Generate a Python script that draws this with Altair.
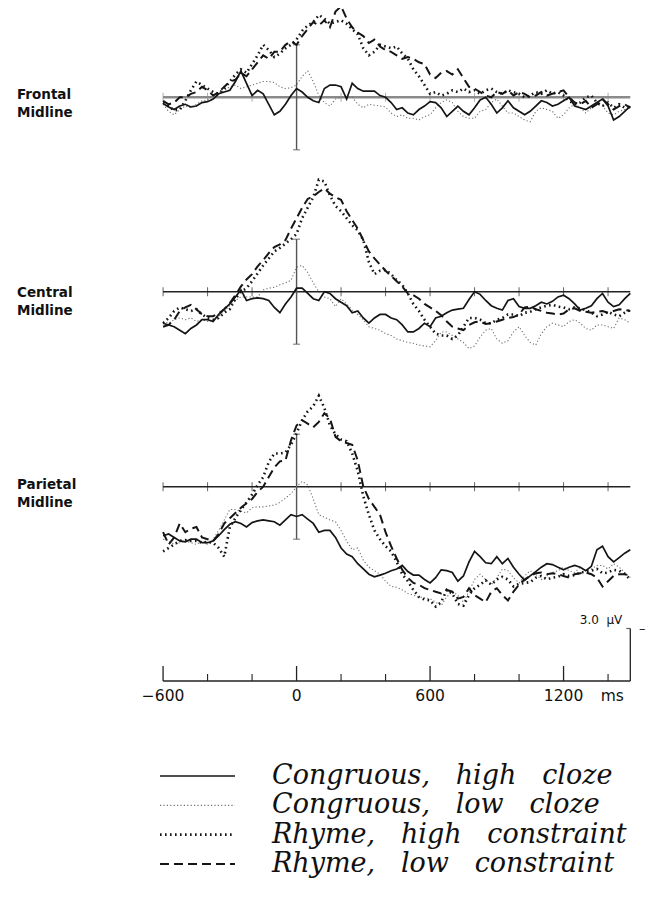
import altair as alt
import pandas as pd

# ---------------- data ----------------
times = list(range(-600, 1501, 25))  # sampling grid, ms

series_names = [
    "Congruous, high cloze",
    "Congruous, low cloze",
    "Rhyme, high constraint",
    "Rhyme, low constraint",
]
SP = "\u00a0\u00a0\u00a0"
legend_text = [
    "Congruous," + SP + "high" + SP + "cloze",
    "Congruous," + SP + "low" + SP + "cloze",
    "Rhyme," + SP + "high" + SP + "constraint",
    "Rhyme," + SP + "low" + SP + "constraint",
]

site_names = ["Frontal", "Central", "Parietal"]

# amplitudes in microvolts (as plotted, upward deflection = larger value)
frontal_ch = [
    -0.35, -0.55, -0.7, -0.5, -0.4, -0.55, -0.5, -0.3, -0.25, -0.1, 0.2, 0.3,
    0.4, 0.9, 1.5, 0.8, 0.1, 0.4, 0.2, -0.4, -1.0, -0.8, -0.4, 0.1,
    0.5, 0.3, 0.0, -0.2, -0.3, 0.5, 0.7, 0.7, 0.6, -0.1, 0.8, 0.5,
    0.35, 0.35, 0.35, 0.1, 0.0, -0.3, -0.7, -0.6, -0.9, -1.0, -0.7, -0.5,
    -0.25, -0.3, -0.6, -1.1, -0.8, -0.5, -0.8, -1.0, -0.6, -0.15, 0.0, -0.4,
    -0.9, -0.6, -0.2, -0.6, -0.8, -1.0, -0.8, -0.5, -0.2, -0.3, -0.5, -0.4,
    -0.2, 0.0, -0.5, -0.6, -0.7, -0.5, -0.3, -0.1, -0.5, -1.3, -1.1, -0.8,
    -0.5]
frontal_cl = [
    -0.4, -0.8, -1.0, -0.7, -0.5, -0.6, -0.4, -0.2, -0.15, 0.1, 0.2, 0.4,
    0.6, 0.7, 0.5, 0.6, 0.7, 0.8, 0.9, 0.9, 0.85, 0.6, 0.5, 0.55,
    0.7, 1.2, 1.5, 0.9, 0.1, -0.3, -0.5, -0.1, 0.0, 0.0, 0.0, -0.4,
    -0.6, -0.4, -0.45, -0.5, -0.55, -0.9, -1.1, -1.0, -1.2, -1.2, -1.3, -1.1,
    -1.0, -0.6, -0.3, -0.15, -0.3, -0.8, -1.1, -1.2, -1.2, -0.8, -0.7, -0.3,
    -0.1, -0.5, -0.9, -0.9, -1.1, -1.3, -1.4, -0.8, -0.6, -0.7, -0.8, -1.2,
    -1.0, -0.6, -0.4, -0.6, -0.9, -0.6, -0.4, -0.5, -0.9, -1.0, -0.8, -0.7,
    -0.6]
frontal_rh = [
    -0.3, -0.5, -0.75, -0.7, -0.2, 0.4, 0.9, 0.7, 0.5, 0.3, 0.2, 0.5,
    0.9, 1.3, 1.6, 1.4, 1.9, 2.4, 3.0, 2.7, 2.3, 2.5, 2.8, 3.0,
    3.3, 3.8, 4.1, 4.3, 4.7, 4.5, 4.2, 4.3, 4.4, 4.2, 3.9, 3.6,
    2.8, 2.4, 2.6, 3.0, 2.9, 2.8, 2.9, 2.5, 2.2, 1.6, 1.2, 0.7,
    0.2, 0.3, 0.1, 0.2, 0.4, 0.3, 0.5, 0.3, 0.4, 0.2, 0.4, 0.5,
    0.3, 0.2, 0.4, 0.3, 0.2, 0.0, 0.1, 0.3, 0.2, 0.4, 0.2, 0.3,
    0.1, -0.2, -0.4, -0.3, 0.0, 0.1, -0.3, -0.5, -0.3, -0.6, -0.4, -0.6,
    -0.5]
frontal_rl = [
    -0.2, -0.4, -0.3, 0.0, 0.0, 0.2, 0.3, 0.6, 0.4, 0.1, 0.3, 0.6,
    0.9, 1.0, 1.4, 1.2, 1.6, 2.0, 2.4, 2.2, 2.6, 2.6, 3.0, 3.2,
    3.0, 3.5, 3.9, 4.3, 4.1, 4.4, 4.0, 4.9, 5.2, 4.5, 4.0, 3.7,
    3.5, 3.1, 3.3, 2.9, 2.7, 2.6, 2.4, 2.2, 2.3, 2.2, 2.0, 1.9,
    1.3, 1.1, 1.4, 1.5, 1.3, 1.6, 1.1, 0.6, 0.5, 0.3, 0.1, 0.0,
    0.3, 0.2, 0.4, 0.1, 0.3, 0.2, 0.0, 0.1, 0.3, 0.1, 0.2, 0.3,
    0.4, 0.0, -0.3, -0.4, -0.2, -0.6, -0.4, -0.1, -0.4, -0.7, -0.5, -0.4,
    -0.6]

central_ch = [
    -1.8, -1.9, -2.0, -2.2, -2.4, -2.1, -1.9, -1.6, -1.6, -1.7, -1.3, -1.0,
    -0.7, -0.3, 0.1, -0.5, -0.4, -0.35, -0.4, -0.5, -0.9, -1.2, -0.7, -0.3,
    0.2, 0.2, -0.1, -0.4, -0.5, 0.0, -0.1, -0.4, -0.6, -0.8, -1.2, -1.1,
    -1.5, -1.8, -1.5, -1.3, -1.3, -1.5, -1.6, -1.9, -2.3, -2.3, -2.1, -1.8,
    -2.0, -1.5, -1.4, -1.2, -1.05, -1.0, -0.95, -0.45, 0.0, -0.15, -0.5, -0.8,
    -0.95, -1.05, -0.5, -0.4, -0.85, -0.95, -0.95, -0.8, -0.6, -0.7, -0.55, -0.3,
    -0.2, -0.4, -0.7, -1.05, -0.95, -0.8, -0.4, -0.1, -0.6, -0.85, -0.75, -0.4,
    -0.1]
central_cl = [
    -1.7, -1.8, -1.6, -1.5, -1.6, -1.5, -1.7, -1.6, -1.7, -1.6, -1.4, -1.1,
    -0.8, -0.5, -0.3, -0.3, -0.3, -0.3, 0.1, 0.2, 0.25, 0.4, 0.5, 0.65,
    1.4, 1.5, 1.1, 0.5, 0.0, -0.3, -0.4, -0.85, -0.4, -0.7, -1.05, -1.3,
    -1.6, -2.0, -2.1, -2.2, -2.4, -2.5, -2.7, -2.8, -2.9, -2.95, -3.05, -3.1,
    -3.15, -2.8, -2.3, -2.3, -2.5, -2.7, -2.9, -3.25, -3.1, -2.6, -2.2, -2.1,
    -2.7, -2.95, -2.8, -2.3, -2.0, -2.5, -2.9, -3.05, -2.4, -2.0, -1.8, -1.9,
    -2.0, -1.7, -1.6, -1.8, -2.1, -2.2, -1.9, -1.9, -2.0, -2.1, -1.5, -1.6,
    -1.8]
central_rh = [
    -1.8, -1.5, -1.1, -0.9, -1.0, -1.1, -1.0, -1.3, -1.5, -1.6, -1.5, -1.2,
    -1.0, -0.4, 0.0, 0.2, 0.6, 1.05, 1.5, 1.9, 2.3, 2.5, 2.75, 3.0,
    3.3, 4.2, 4.8, 5.4, 6.4, 6.3, 5.5, 4.9, 4.6, 4.2, 3.8, 3.5,
    2.95, 1.7, 1.0, 1.2, 1.25, 1.0, 0.65, 0.4, -0.1, -0.7, -1.1, -1.6,
    -2.0, -2.4, -2.5, -2.5, -2.7, -2.5, -2.0, -1.5, -1.5, -1.6, -1.8, -1.8,
    -1.6, -1.5, -1.3, -1.3, -1.4, -1.2, -1.15, -1.0, -0.9, -0.8, -0.75, -0.85,
    -0.9, -1.0, -0.9, -0.95, -1.05, -1.2, -1.4, -1.3, -1.15, -1.3, -1.4, -1.2,
    -1.05]
central_rl = [
    -2.0, -1.9, -1.6, -1.1, -0.9, -0.75, -1.0, -1.3, -1.4, -1.4, -1.25, -1.0,
    -0.65, -0.2, 0.3, 0.7, 1.0, 1.45, 1.8, 2.2, 2.55, 2.7, 2.95, 3.6,
    4.2, 4.8, 5.3, 5.45, 5.7, 5.9, 5.6, 5.4, 5.25, 4.6, 4.1, 3.6,
    2.95, 2.3, 1.9, 1.55, 1.2, 0.9, 0.6, 0.3, -0.1, -0.2, -0.4, -0.7,
    -0.9, -1.1, -1.35, -1.7, -2.0, -2.1, -2.2, -1.9, -1.75, -1.7, -1.85, -1.8,
    -1.7, -1.6, -1.5, -1.45, -1.3, -0.9, -0.85, -1.0, -1.1, -1.2, -1.25, -1.3,
    -1.25, -1.0, -0.95, -1.1, -1.15, -1.2, -1.15, -1.1, -1.2, -1.1, -1.0, -1.05,
    -1.1]

parietal_ch = [
    -2.8, -2.7, -2.9, -3.1, -3.15, -3.0, -3.0, -3.2, -3.2, -3.1, -2.8, -2.45,
    -2.15, -2.0, -2.1, -2.3, -2.05, -1.95, -1.9, -1.95, -2.0, -2.2, -1.9, -1.6,
    -1.7, -1.6, -1.85, -2.1, -2.6, -2.5, -2.5, -2.9, -3.5, -3.85, -4.0, -4.4,
    -4.7, -5.0, -5.15, -5.05, -4.95, -4.8, -4.7, -4.5, -4.85, -5.05, -5.05, -5.3,
    -5.5, -5.2, -4.75, -4.8, -4.9, -5.4, -5.1, -4.3, -3.7, -4.0, -4.35, -4.4,
    -4.0, -4.4, -4.1, -4.6, -5.0, -5.35, -5.1, -4.85, -4.6, -4.4, -4.45, -4.6,
    -4.75, -4.6, -4.5, -4.6, -4.8, -4.55, -3.6, -3.4, -4.0, -4.3, -4.05, -3.8,
    -3.6]
parietal_cl = [
    -3.0, -3.1, -3.3, -3.2, -3.1, -3.2, -3.3, -3.1, -3.3, -3.0, -2.5, -1.9,
    -1.3, -1.3, -1.4, -1.5, -1.2, -1.15, -1.15, -1.1, -1.05, -0.9, -0.65, -0.4,
    0.0, 0.3, 0.1, -0.7, -1.6, -1.75, -1.9, -2.0, -2.5, -3.1, -3.6, -3.5,
    -4.2, -4.6, -4.8, -5.0, -5.4, -5.7, -5.75, -5.9, -6.1, -6.2, -6.3, -6.35,
    -6.4, -6.6, -6.8, -6.3, -6.0, -6.2, -6.6, -6.0, -5.3, -5.0, -5.3, -5.6,
    -5.2, -4.7, -4.8, -5.2, -5.5, -5.1, -4.8, -5.0, -5.3, -5.1, -4.9, -4.8,
    -4.6, -4.8, -4.9, -4.6, -4.8, -4.7, -4.5, -4.5, -4.7, -4.4, -4.6, -4.9,
    -5.2]
parietal_rh = [
    -3.7, -3.5, -3.3, -3.1, -3.05, -3.1, -3.1, -3.2, -3.15, -3.2, -3.5, -4.0,
    -2.3, -1.8, -1.3, -0.9, -0.45, 0.1, 0.55, 1.4, 1.9, 1.9, 1.95, 2.4,
    3.05, 3.8, 4.3, 4.6, 5.2, 4.5, 3.5, 3.0, 2.7, 2.6, 1.9, 0.9,
    -0.55, -1.6, -2.5, -3.0, -3.4, -3.7, -4.3, -5.0, -5.4, -5.9, -6.3, -6.45,
    -6.5, -6.85, -6.6, -5.9, -6.1, -6.7, -6.8, -6.2, -5.8, -5.6, -5.35, -5.6,
    -5.3, -5.15, -5.3, -5.7, -5.55, -5.5, -5.45, -5.2, -5.1, -5.3, -5.2, -5.15,
    -5.0, -5.1, -5.05, -4.9, -4.85, -4.8, -4.7, -4.95, -4.9, -4.75, -4.8, -5.0,
    -5.3]
parietal_rl = [
    -2.6, -3.3, -2.9, -2.1, -2.6, -2.4, -2.3, -2.9, -3.0, -3.1, -2.7, -2.1,
    -1.8, -1.5, -1.2, -0.95, -0.7, -0.3, 0.0, 0.55, 1.1, 1.45, 1.5, 2.65,
    3.5, 3.8, 3.6, 3.4, 3.7, 4.2, 3.9, 2.85, 2.6, 2.5, 2.4, 1.5,
    0.0, -0.7, -1.15, -1.6, -2.6, -3.4, -4.1, -4.75, -5.2, -5.5, -5.6, -5.8,
    -5.9, -6.0, -6.1, -5.9, -6.0, -6.4, -6.3, -5.8, -6.2, -6.4, -6.6, -6.0,
    -5.8, -6.2, -6.5, -6.0, -5.6, -5.3, -5.1, -4.95, -4.9, -5.0, -4.95, -5.0,
    -5.1, -5.2, -5.0, -4.95, -4.9, -5.0, -5.2, -5.7, -5.4, -5.1, -5.0, -5.0,
    -5.1]

site_data = {
    "Frontal": [frontal_ch, frontal_cl, frontal_rh, frontal_rl],
    "Central": [central_ch, central_cl, central_rh, central_rl],
    "Parietal": [parietal_ch, parietal_cl, parietal_rh, parietal_rl],
}

baseline_ticks = [-600, -400, -200, 0, 200, 400, 600, 800, 1000, 1200, 1400]
major_ticks = [-600, 0, 600, 1200]
major_labels = ["\u2212600", "0", "600", "1200"]
minor_ticks = [-400, -200, 200, 400, 800, 1000, 1400]
epoch = [-600, 1500]
cal_uv = 3.0

# ---------------- layout / style ----------------
W, H = 647, 908
PX_PER_UV = 17.5
XS = alt.Scale(domain=[-1297, 1611], nice=False, zero=False)
panel_base = {"Frontal": 89.3, "Central": 283.7, "Parietal": 478.7}
label_shift = {"Frontal": -2, "Central": 1, "Parietal": -2}
axis_base = 673.0

STYLE = {
    "Congruous, high cloze": dict(color="#151515", strokeWidth=1.7),
    "Congruous, low cloze": dict(color="#707070", strokeWidth=1.1, strokeDash=[1.2, 2.2]),
    "Rhyme, high constraint": dict(color="#151515", strokeWidth=2.6, strokeDash=[1.6, 3.4]),
    "Rhyme, low constraint": dict(color="#151515", strokeWidth=2.0, strokeDash=[9, 5]),
}
DRAW_ORDER = [1, 0, 2, 3]


def yscale(base):
    r = cal_uv * PX_PER_UV
    return alt.Scale(domain=[-cal_uv, cal_uv], range=[base + r, base - r], nice=False, zero=False)


def panel(site, base, base_color, base_width):
    rows = []
    for name, vals in zip(series_names, site_data[site]):
        for t, v in zip(times, vals):
            rows.append({"series": name, "t": t, "v": v})
    df = pd.DataFrame(rows)
    ys = yscale(base)
    X = alt.X("t:Q", scale=XS, axis=None)
    Y = alt.Y("v:Q", scale=ys, axis=None)

    base_df = pd.DataFrame({"t": [epoch[0]], "t2": [epoch[1]], "v": [0.0]})
    baseline = alt.Chart(base_df).mark_rule(color=base_color, strokeWidth=base_width).encode(
        x=X, x2="t2:Q", y=Y)
    tick_df = pd.DataFrame({"t": baseline_ticks, "v": [0.0] * len(baseline_ticks)})
    ticks = alt.Chart(tick_df).mark_tick(orient="vertical", size=9, thickness=1, color=base_color).encode(
        x=X, y=Y)
    cal_df = pd.DataFrame({"t": [0], "v": [-cal_uv], "v2": [cal_uv]})
    cal = alt.Chart(cal_df).mark_rule(color="#555555", strokeWidth=1.4).encode(x=X, y=Y, y2="v2:Q")
    cap_df = pd.DataFrame({"t": [0, 0], "v": [-cal_uv, cal_uv]})
    caps = alt.Chart(cap_df).mark_tick(orient="horizontal", size=7, thickness=1.2, color="#555555").encode(
        x=X, y=Y)

    lines = []
    for i in DRAW_ORDER:
        name = series_names[i]
        lines.append(
            alt.Chart(df).transform_filter(alt.datum.series == name)
            .mark_line(**STYLE[name])
            .encode(x=X, y=Y, order="t:Q")
        )
    label_df = pd.DataFrame({"v": [0.0]})
    label = alt.Chart(label_df).mark_text(
        text=[site, "Midline"], align="left", baseline="middle", font="DejaVu Sans",
        fontWeight="bold", fontSize=13.5, lineHeight=18, color="#111111", dy=label_shift[site]
    ).encode(x=alt.value(9), y=Y)
    return alt.layer(baseline, ticks, cal, caps, *lines, label)


frontal = panel("Frontal", panel_base["Frontal"], "#8a8a8a", 2.6)
central = panel("Central", panel_base["Central"], "#222222", 1.4)
parietal = panel("Parietal", panel_base["Parietal"], "#222222", 1.4)

# bottom time axis and amplitude scale bar
ys_axis = yscale(axis_base)
XA = alt.X("t:Q", scale=XS, axis=None)
YA = alt.Y("v:Q", scale=ys_axis, axis=None)
ax_df = pd.DataFrame({"t": [epoch[0]], "t2": [epoch[1]], "v": [0.0]})
ax_line = alt.Chart(ax_df).mark_rule(color="#222222", strokeWidth=1.3).encode(x=XA, x2="t2:Q", y=YA)
maj = alt.Chart(pd.DataFrame({"t": major_ticks})).mark_rule(color="#222222", strokeWidth=1.3).encode(
    x=XA, y=alt.value(axis_base), y2=alt.value(axis_base - 15))
mino = alt.Chart(pd.DataFrame({"t": minor_ticks})).mark_rule(color="#222222", strokeWidth=1.1).encode(
    x=XA, y=alt.value(axis_base), y2=alt.value(axis_base - 7))
lab = alt.Chart(pd.DataFrame({"t": major_ticks, "label": major_labels})).mark_text(
    font="DejaVu Sans", fontSize=15.5, baseline="middle", align="center", color="#111111"
).encode(x=XA, y=alt.value(axis_base + 15), text="label:N")
ms = alt.Chart(pd.DataFrame({"t": [epoch[1]]})).mark_text(
    text="ms", font="DejaVu Sans", fontSize=15.5, baseline="middle", align="center", color="#111111", dx=-18
).encode(x=XA, y=alt.value(axis_base + 15))
bar_df = pd.DataFrame({"t": [epoch[1]], "v": [0.0], "v2": [cal_uv]})
bar = alt.Chart(bar_df).mark_rule(color="#222222", strokeWidth=1.3).encode(x=XA, y=YA, y2="v2:Q")
bar_top = pd.DataFrame({"t": [epoch[1]], "v": [cal_uv], "label": ["3.0\u00a0\u00a0\u00b5V"]})
bar_cap = alt.Chart(bar_top).mark_tick(orient="horizontal", size=4, thickness=1.2, color="#222222", xOffset=-2).encode(
    x=XA, y=YA)
bar_txt = alt.Chart(bar_top).mark_text(
    font="DejaVu Sans", fontSize=12, align="right", baseline="middle", dx=-8, dy=-9, color="#111111"
).encode(x=XA, y=YA, text="label:N")
bar_sign = alt.Chart(bar_top).mark_text(
    text="\u2013", font="DejaVu Sans", fontSize=13, align="center", baseline="middle", dx=12, color="#111111"
).encode(x=XA, y=YA)
bottom = alt.layer(ax_line, maj, mino, lab, ms, bar, bar_cap, bar_txt, bar_sign)

# legend
leg_df = pd.DataFrame({"series": series_names, "label": legend_text})
LY = alt.Y("series:N", scale=alt.Scale(type="point", domain=series_names, range=[768, 856], padding=0), axis=None)
leg_lines = []
for name in series_names:
    st = dict(STYLE[name])
    leg_lines.append(
        alt.Chart(leg_df).transform_filter(alt.datum.series == name)
        .mark_rule(**st).encode(x=alt.value(152), x2=alt.value(227), y=LY)
    )
leg_txt = alt.Chart(leg_df).mark_text(
    font="DejaVu Serif", fontStyle="italic", fontSize=27, align="left", baseline="middle", color="#111111"
).encode(x=alt.value(264), y=LY, text="label:N")
legend = alt.layer(*leg_lines, leg_txt)

chart = alt.layer(frontal, central, parietal, bottom, legend).resolve_scale(y="independent").properties(
    width=W, height=H, padding=0, autosize=alt.AutoSizeParams(type="none")
).configure_view(strokeWidth=0)

chart.save("out.html", embed_options={"renderer": "svg", "actions": False})
